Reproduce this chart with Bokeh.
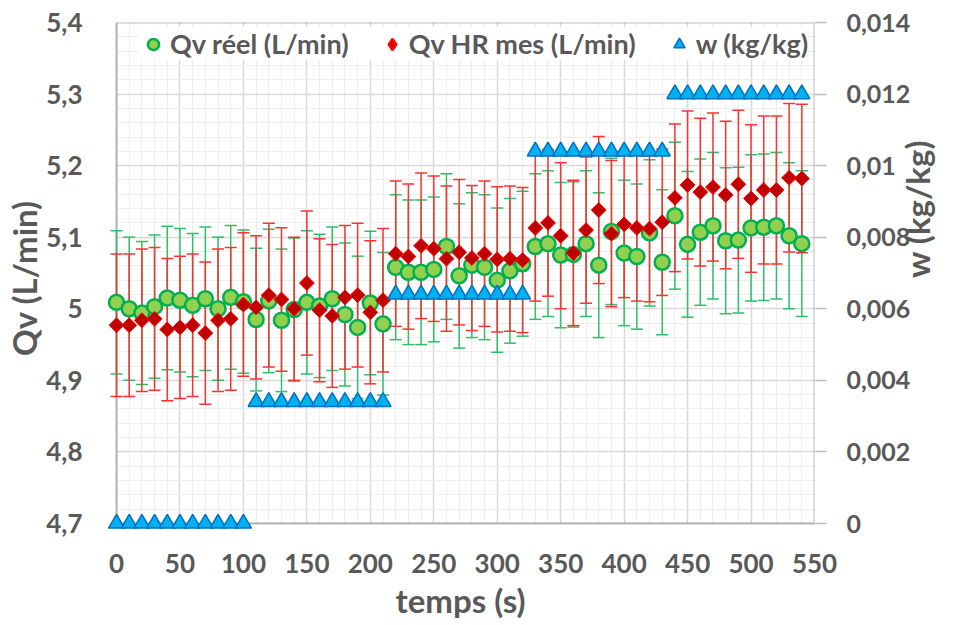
import math
import numpy as np
from bokeh.plotting import figure
from bokeh.models import (Range1d, LinearAxis, FixedTicker, BoxAnnotation,
                          Legend, LegendItem)
from bokeh.embed import file_html
from bokeh.resources import INLINE

# ---------------- data ----------------
temps = [0, 10, 20, 30, 40, 50, 60, 70, 80, 90, 100,
         110, 120, 130, 140, 150, 160, 170, 180, 190, 200, 210,
         220, 230, 240, 250, 260, 270, 280, 290, 300, 310, 320,
         330, 340, 350, 360, 370, 380, 390, 400, 410, 420, 430,
         440, 450, 460, 470, 480, 490, 500, 510, 520, 530, 540]

qv_reel = [5.009, 5.000, 4.994, 5.003, 5.015, 5.012, 5.005, 5.014, 5.000, 5.016, 5.010,
           4.985, 5.011, 4.984, 4.999, 5.009, 5.004, 5.014, 4.992, 4.974, 5.008, 4.979,
           5.058, 5.051, 5.051, 5.055, 5.087, 5.046, 5.061, 5.058, 5.040, 5.053, 5.063,
           5.087, 5.091, 5.075, 5.076, 5.091, 5.061, 5.108, 5.078, 5.073, 5.106, 5.065,
           5.130, 5.090, 5.107, 5.116, 5.095, 5.096, 5.113, 5.114, 5.116, 5.102, 5.091]

qv_hr_mes = [4.977, 4.977, 4.984, 4.986, 4.971, 4.974, 4.977, 4.966, 4.984, 4.986, 5.006,
             5.002, 5.019, 5.013, 5.000, 5.036, 4.998, 4.990, 5.016, 5.019, 4.995, 5.012,
             5.077, 5.073, 5.088, 5.084, 5.070, 5.079, 5.071, 5.077, 5.069, 5.070, 5.068,
             5.113, 5.120, 5.102, 5.078, 5.110, 5.138, 5.105, 5.118, 5.113, 5.112, 5.121,
             5.155, 5.173, 5.163, 5.170, 5.159, 5.174, 5.154, 5.166, 5.166, 5.183, 5.182]

w_kgkg = [0, 0, 0, 0, 0, 0, 0, 0, 0, 0, 0,
          0.0034, 0.0034, 0.0034, 0.0034, 0.0034, 0.0034, 0.0034, 0.0034, 0.0034, 0.0034, 0.0034,
          0.0064, 0.0064, 0.0064, 0.0064, 0.0064, 0.0064, 0.0064, 0.0064, 0.0064, 0.0064, 0.0064,
          0.0104, 0.0104, 0.0104, 0.0104, 0.0104, 0.0104, 0.0104, 0.0104, 0.0104, 0.0104, 0.0104,
          0.012, 0.012, 0.012, 0.012, 0.012, 0.012, 0.012, 0.012, 0.012, 0.012, 0.012]

err_pct = 0.02  # percentage error bars (±2 %)

x_ticks = [0, 50, 100, 150, 200, 250, 300, 350, 400, 450, 500, 550]
x_labels = ["0", "50", "100", "150", "200", "250", "300", "350", "400", "450", "500", "550"]
y_ticks = [4.7, 4.8, 4.9, 5.0, 5.1, 5.2, 5.3, 5.4]
y_labels = ["4,7", "4,8", "4,9", "5", "5,1", "5,2", "5,3", "5,4"]
w_ticks = [0, 0.002, 0.004, 0.006, 0.008, 0.01, 0.012, 0.014]
w_labels = ["0", "0,002", "0,004", "0,006", "0,008", "0,01", "0,012", "0,014"]

# ---------------- layout ----------------
FONT = "Lato"
GREY = "#595959"
TICK_FS = "26px"
TITLE_FS = "33px"
BL, BR, BT, BB = 116, 814, 22, 523   # plot border in page px
PAD = 10                              # room so edge markers are not clipped
X0, X1 = 0, 550
Y0, Y1 = 4.7, 5.4
W0, W1 = 0, 0.014
sx = (BR - BL) / (X1 - X0)
sy = (BB - BT) / (Y1 - Y0)
sw = (BB - BT) / (W1 - W0)

FW = BR - BL + PAD
FH = BB - BT + PAD
ML = BL - PAD
MT = BT
MR = 958 - ML - FW
MB = 625 - MT - FH

p = figure(frame_width=FW, frame_height=FH,
           min_border_left=ML, min_border_top=MT,
           min_border_right=MR, min_border_bottom=MB,
           x_range=Range1d(X0 - PAD / sx, X1),
           y_range=Range1d(Y0 - PAD / sy, Y1),
           output_backend="svg", toolbar_location=None)
p.extra_y_ranges = {"w": Range1d(W0 - PAD / sw, W1)}
p.outline_line_color = None
p.background_fill_color = "white"
p.border_fill_color = "white"

xt = FixedTicker(ticks=x_ticks, minor_ticks=list(np.arange(0, 551, 10)))
yt = FixedTicker(ticks=y_ticks, minor_ticks=list(np.round(np.arange(4.7, 5.4001, 0.02), 3)))
p.xaxis.ticker = xt
p.yaxis.ticker = yt
p.xgrid.ticker = xt
p.ygrid.ticker = yt
for g in (p.xgrid[0], p.ygrid[0]):
    g.grid_line_color = "#d9d9d9"
    g.grid_line_width = 1.5
    g.minor_grid_line_color = "#eeeeee"
    g.minor_grid_line_width = 1

def style_axis(ax, labels_map):
    ax.axis_line_color = None
    ax.major_tick_line_color = None
    ax.minor_tick_line_color = None
    ax.major_label_overrides = labels_map
    ax.major_label_text_font = FONT
    ax.major_label_text_font_size = TICK_FS
    ax.major_label_text_font_style = "bold"
    ax.major_label_text_color = GREY
    ax.axis_label_text_font = FONT
    ax.axis_label_text_font_size = TITLE_FS
    ax.axis_label_text_font_style = "bold"
    ax.axis_label_text_color = GREY

xa = p.xaxis[0]
style_axis(xa, {float(k): v for k, v in zip(x_ticks, x_labels)})
xa.axis_label = "temps (s)"
xa.major_label_standoff = 14
xa.axis_label_standoff = 4

ya = p.yaxis[0]
style_axis(ya, {float(k): v for k, v in zip(y_ticks, y_labels)})
ya.axis_label = "Qv (L/min)"
ya.major_label_standoff = 18
ya.axis_label_standoff = -1

# secondary axis: ticks + labels
wa = LinearAxis(y_range_name="w", ticker=FixedTicker(ticks=w_ticks))
style_axis(wa, {float(k): v for k, v in zip(w_ticks, w_labels)})
wa.major_label_text_font_size = "25px"
wa.major_tick_line_color = "#bfbfbf"
wa.major_tick_line_width = 1.5
wa.major_tick_out = 12
wa.major_tick_in = 0
wa.major_label_standoff = 20
p.add_layout(wa, "right")

# secondary axis title (read bottom-to-top); bounds only place the title
TITLE_BOTTOM_PX = 347
t_anchor = (BB - TITLE_BOTTOM_PX) / sw
wt = LinearAxis(y_range_name="w", ticker=FixedTicker(ticks=[]),
                bounds=(0, 2 * t_anchor))
style_axis(wt, {})
wt.major_tick_out = 0
wt.major_tick_in = 0
wt.major_label_standoff = 0
wt.axis_label = "w (kg/kg)"
wt.axis_label_orientation = math.pi / 2
wt.axis_label_standoff = 3
p.add_layout(wt, "right")

# white strips hide grid inside the padding, then the black plot border
p.add_layout(BoxAnnotation(right=X0, fill_color="white", fill_alpha=1,
                           line_alpha=0, level="underlay"))
p.add_layout(BoxAnnotation(top=Y0, fill_color="white", fill_alpha=1,
                           line_alpha=0, level="underlay"))
p.add_layout(BoxAnnotation(left=X0, right=X1, bottom=Y0, top=Y1,
                           fill_alpha=0, line_color="#1a1a1a", line_width=2,
                           level="underlay"))

# ---------------- error bars ----------------
g_up = [v * (1 + err_pct) for v in qv_reel]
g_lo = [v * (1 - err_pct) for v in qv_reel]
r_up = [v * (1 + err_pct) for v in qv_hr_mes]
r_lo = [v * (1 - err_pct) for v in qv_hr_mes]

GE = "#2fbf66"
RE = "#ff3030"
p.segment(x0=temps, y0=g_lo, x1=temps, y1=g_up, line_color=GE, line_width=1.5)
p.scatter(temps, g_up, marker="dash", size=12, line_color=GE, line_width=1.5)
p.scatter(temps, g_lo, marker="dash", size=12, line_color=GE, line_width=1.5)
p.segment(x0=temps, y0=r_lo, x1=temps, y1=r_up, line_color=RE, line_width=1.5)
p.scatter(temps, r_up, marker="dash", size=12, line_color=RE, line_width=1.5)
p.scatter(temps, r_lo, marker="dash", size=12, line_color=RE, line_width=1.5)

# ---------------- markers ----------------
rg = p.scatter(temps, qv_reel, marker="circle", size=15,
               fill_color="#92d050", line_color="#00b050", line_width=2.5)
rr = p.scatter(temps, qv_hr_mes, marker="square", angle=np.pi / 4, size=10.5,
               fill_color="#c00000", line_color="#ff0000", line_width=1)
rw = p.scatter(temps, w_kgkg, marker="triangle", size=16, y_range_name="w",
               fill_color="#00b0f0", line_color="#0070c0", line_width=1.5)
# legend-only glyph for the diamond (legend markers are never rotated)
rr_leg = p.scatter(temps, qv_hr_mes, marker="diamond", size=14, visible=False,
                   fill_color="#c00000", line_color="#ff0000", line_width=2.5)

legend = Legend(items=[LegendItem(label="Qv réel (L/min)", renderers=[rg]),
                       LegendItem(label="Qv HR mes (L/min)", renderers=[rr_leg]),
                       LegendItem(label="w (kg/kg)", renderers=[rw])],
                location=(33, FH - 38), orientation="horizontal",
                background_fill_color="white", background_fill_alpha=1,
                border_line_color=None, padding=4, margin=0, spacing=29,
                glyph_width=28, glyph_height=30, label_standoff=3,
                label_height=30,
                label_text_font=FONT, label_text_font_size="27px",
                label_text_font_style="bold", label_text_color=GREY)
p.add_layout(legend)

open("out.html", "w").write(file_html(p, INLINE))
